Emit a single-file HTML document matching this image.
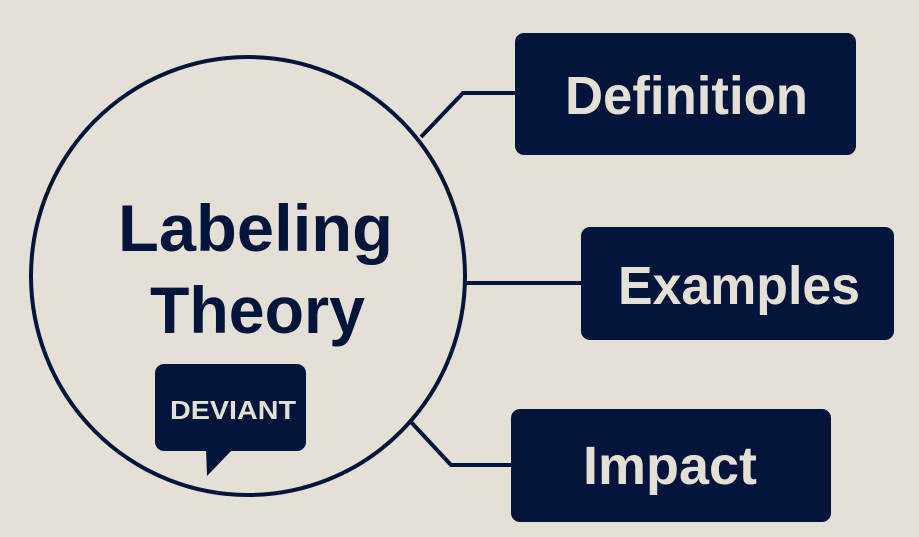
<!DOCTYPE html>
<html><head><style>
html,body{margin:0;padding:0;background:#e4e0d6;}
svg{display:block}
text{font-family:"Liberation Sans",sans-serif;font-weight:bold;}
</style></head><body>
<svg width="919" height="537" viewBox="0 0 919 537" xmlns="http://www.w3.org/2000/svg">
<rect width="919" height="537" fill="#e4e0d6"/>
<g stroke="#03153a" stroke-width="4" fill="none">
<ellipse cx="248" cy="276" rx="217" ry="219"/>
<polyline points="421,137 463,93 517,93"/>
<line x1="465" y1="283" x2="583" y2="283"/>
<polyline points="411,422 451,465 513,465"/>
</g>
<g fill="#03153a">
<rect x="515" y="33" width="341" height="122" rx="9"/>
<rect x="581" y="227" width="313" height="113" rx="9"/>
<rect x="511" y="409" width="320" height="113" rx="9"/>
<rect x="155" y="364" width="151" height="87" rx="9"/>
<polygon points="206,449 233,449 207,476"/>
</g>
<g fill="#03153a" font-size="66">
<text x="118" y="251" textLength="275" lengthAdjust="spacingAndGlyphs">Labeling</text>
<text x="150" y="333" textLength="215" lengthAdjust="spacingAndGlyphs">Theory</text>
</g>
<g fill="#e4e0d6">
<text x="565" y="114" font-size="54" textLength="243" lengthAdjust="spacingAndGlyphs">Definition</text>
<text x="618" y="304" font-size="54" textLength="242" lengthAdjust="spacingAndGlyphs">Examples</text>
<text x="583" y="484" font-size="54" textLength="174" lengthAdjust="spacingAndGlyphs">Impact</text>
<text x="170" y="419" font-size="26" textLength="126" lengthAdjust="spacingAndGlyphs">DEVIANT</text>
</g>
</svg>
</body></html>
